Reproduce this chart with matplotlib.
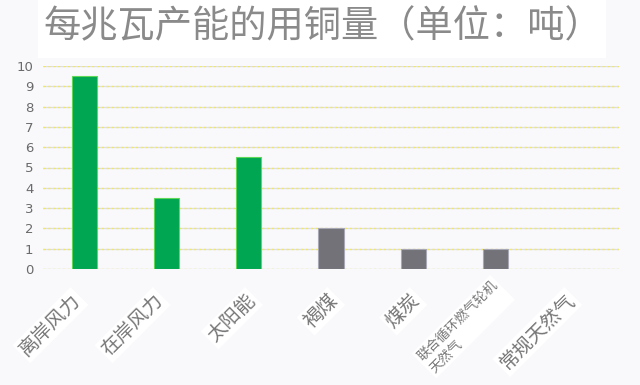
import matplotlib
matplotlib.use("Agg")
import matplotlib.pyplot as plt
from matplotlib.patches import Rectangle

plt.rcParams['font.family'] = ['Noto Sans CJK SC', 'DejaVu Sans']

categories = ["离岸风力", "在岸风力", "太阳能", "褐煤", "煤炭", "联合循环燃气轮机\n天然气", "常规天然气"]
values = [9.5, 3.5, 5.5, 2, 1, 1, 0]
bar_colors = ["#00a651", "#00a651", "#00a651", "#727278", "#727278", "#727278", "#727278"]
edge_colors = ["#5fd85a", "#5fd85a", "#5fd85a", "#a8a8b4", "#a8a8b4", "#a8a8b4", "#a8a8b4"]
y_ticks = list(range(0, 11))
title = "每兆瓦产能的用铜量（单位：吨）"

bg = "#f9f9fc"
fig = plt.figure(figsize=(6.4, 3.85), dpi=100, facecolor=bg)

# white title panel
fig.patches.append(Rectangle((38 / 640, 1 - 58 / 385), 568 / 640, 58 / 385,
                             transform=fig.transFigure, facecolor="white",
                             edgecolor="none", zorder=0))
fig.text(44 / 640, 1 - 27 / 385, title, fontsize=26.8, color="#8a8a8a",
         ha="left", va="center")

ax = fig.add_axes([43 / 640, 1 - 269 / 385, 576 / 640, 203 / 385])
ax.set_facecolor(bg)
x = list(range(len(categories)))
ax.set_xlim(-0.5, len(categories) - 0.5)
ax.set_ylim(0, 10)

# gridlines: light lavender line overlaid with yellow dots
for t in y_ticks:
    ax.axhline(t, color="#dcdce8", lw=0.9, zorder=1)
    ax.axhline(t, color="#f2ea60", lw=1.0, ls=(0, (1.5, 2)), zorder=1.5)

ax.bar(x, values, width=0.305, color=bar_colors, edgecolor=edge_colors,
       linewidth=0.8, zorder=3)

for s in ax.spines.values():
    s.set_visible(False)
ax.set_yticks(y_ticks)
ax.set_yticklabels([str(t) for t in y_ticks], fontsize=9.5, color="#6a6a6a",
                   family=["DejaVu Sans"])
ax.tick_params(axis="y", length=0, pad=7)
ax.set_xticks(x)
ax.set_xticklabels([])
ax.tick_params(axis="x", length=0)

# rotated category labels; short labels sit a little further right,
# the two-line label is smaller and sits higher
for i, lab in enumerate(categories):
    two_line = "\n" in lab
    dx = -0.165 + (0.12 if len(lab) <= 3 else 0.0) + (0.1 if two_line else 0.0)
    dy = 0.6 if two_line else 0.0
    ax.text(i + dx, -1.04 + dy, lab, rotation=45, rotation_mode="anchor",
            ha="right", va="top", multialignment="left",
            fontsize=9.6 if two_line else 14, color="#777777",
            transform=ax.transData, clip_on=False, linespacing=1.25,
            bbox=dict(facecolor="white", edgecolor="none", pad=1.5))

fig.savefig("out.png", dpi=100, facecolor=bg)
